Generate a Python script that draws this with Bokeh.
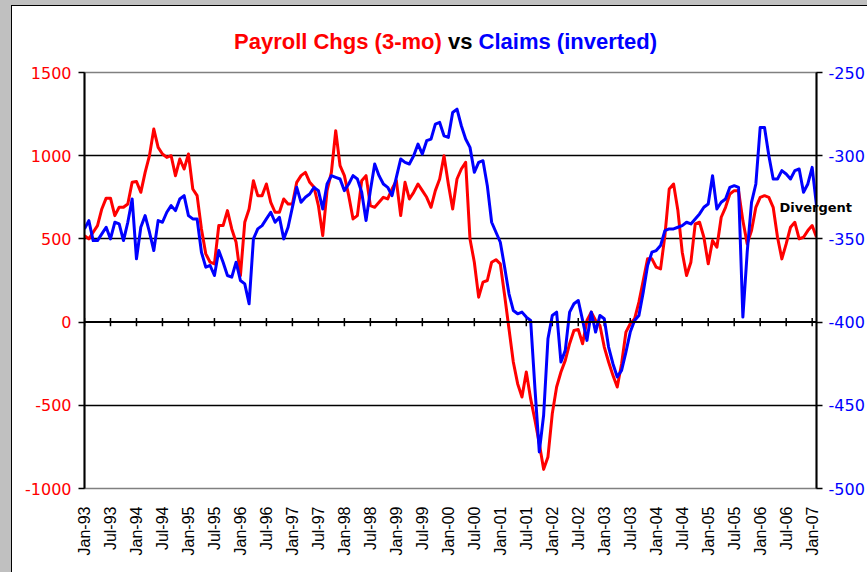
import math
from bokeh.plotting import figure
from bokeh.layouts import column
from bokeh.models import Range1d, LinearAxis, FixedTicker, Span, Div
from bokeh.embed import file_html
from bokeh.resources import INLINE

# month index: 0 = Jan-93 ... 169 = Feb-07
months = list(range(170))

# 3-month payroll change (thousands), left axis
payroll = [
    520, 500, 540, 580, 680, 745, 745, 640, 690, 690,
    710, 840, 845, 780, 900, 1000, 1160, 1050, 1010, 990,
    1000, 880, 980, 920, 1010, 800, 760, 560, 410, 360,
    350, 580, 580, 670, 560, 480, 280, 600, 680, 850,
    760, 760, 830, 720, 660, 660, 740, 710, 710, 840,
    880, 900, 840, 810, 700, 520, 790, 900, 1150, 940,
    880, 760, 620, 640, 850, 880, 700, 690, 720, 750,
    740, 800, 850, 640, 840, 740, 780, 830, 790, 750,
    690, 790, 860, 1000, 830, 680, 860, 920, 960, 500,
    360, 150, 240, 250, 360, 375, 350, 160, -40, -240,
    -370, -450, -300, -460, -590, -730, -885, -810, -550, -390,
    -300, -230, -130, -50, -45, -130, 10, 60, 10, -20,
    -150, -240, -320, -390, -250, -60, -10, 20, 120, 250,
    380, 380, 330, 320, 520, 800, 830, 670, 420, 280,
    360, 590, 600, 510, 350, 490, 450, 630, 690, 770,
    790, 790, 610, 470, 550, 690, 750, 760, 750, 690,
    510, 380, 470, 570, 600, 500, 510, 550, 580, 510,
]

# initial jobless claims, inverted (thousands), right axis
claims_inverted = [
    -344, -339, -351, -351, -347, -343, -350, -340, -341, -351,
    -340, -326, -362, -343, -336, -346, -357, -339, -340, -334,
    -330, -333, -326, -324, -336, -338, -338, -358, -367, -366,
    -372, -357, -364, -372, -373, -364, -375, -377, -389, -350,
    -344, -342, -338, -334, -340, -337, -350, -343, -331, -319,
    -328, -325, -323, -319, -321, -332, -317, -312, -313, -314,
    -321, -317, -312, -314, -322, -339, -321, -305, -312, -317,
    -319, -324, -313, -302, -304, -305, -300, -293, -299, -291,
    -290, -281, -280, -288, -289, -274, -272, -282, -290, -295,
    -310, -304, -303, -318, -340, -346, -352, -367, -383, -393,
    -395, -394, -397, -399, -440, -478, -456, -410, -396, -394,
    -424, -417, -394, -389, -387, -399, -411, -394, -406, -396,
    -398, -415, -425, -433, -429, -418, -406, -399, -396, -382,
    -366, -358, -357, -354, -345, -344, -344, -343, -342, -340,
    -341, -338, -335, -331, -329, -312, -332, -328, -326, -319,
    -318, -319, -397, -358, -328, -317, -283, -283, -300, -314,
    -314, -309, -311, -314, -309, -308, -322, -317, -307, -330,
]

tick_months = list(range(0, 169, 6))
tick_labels = ["Jan-93", "Jul-93", "Jan-94", "Jul-94", "Jan-95", "Jul-95",
               "Jan-96", "Jul-96", "Jan-97", "Jul-97", "Jan-98", "Jul-98",
               "Jan-99", "Jul-99", "Jan-00", "Jul-00", "Jan-01", "Jul-01",
               "Jan-02", "Jul-02", "Jan-03", "Jul-03", "Jan-04", "Jul-04",
               "Jan-05", "Jul-05", "Jan-06", "Jul-06", "Jan-07"]
left_ticks = [-1000, -500, 0, 500, 1000, 1500]
left_labels = ["-1000", "-500", "0", "500", "1000", "1500"]
right_ticks = [-500, -450, -400, -350, -300, -250]
right_labels = ["-500", "-450", "-400", "-350", "-300", "-250"]
grid_levels = [-500, 500, 1000]
note_level = -331          # right-axis level of the "Divergent" note
note_text = "Divergent"

RED = "#FF0000"
BLUE = "#0000FF"
FONT = "Liberation Sans"
NUMFONT = "DejaVu Sans"

title_html = (
    '<div style="white-space:nowrap;font-family:\'Liberation Sans\',Arial,sans-serif;'
    'font-size:22px;font-weight:bold;line-height:26px;padding-left:234px;'
    'padding-top:29px;margin:0;">'
    '<span style="color:#FF0000">Payroll Chgs (3-mo)</span> '
    '<span style="color:#000000">vs</span> '
    '<span style="color:#0000FF">Claims (inverted)</span></div>'
)
title_div = Div(text=title_html, width=867, height=64, margin=0)

fig = figure(width=867, height=508, output_backend="svg", toolbar_location=None,
             x_range=Range1d(0, 169), y_range=Range1d(-1000, 1500),
             min_border_left=84, min_border_right=50, min_border_top=8,
             min_border_bottom=84, background_fill_color="white",
             border_fill_color=None)
fig.outline_line_color = "#808080"
fig.outline_line_width = 1.5

fig.extra_y_ranges = {"claims": Range1d(-500, -250)}

# left axis
ya = fig.yaxis[0]
ya.ticker = FixedTicker(ticks=left_ticks)
ya.major_label_overrides = {t: s for t, s in zip(left_ticks, left_labels)}
ya.major_label_text_color = RED
ya.major_label_text_font = NUMFONT
ya.major_label_text_font_size = "16px"
ya.axis_line_color = "black"
ya.axis_line_width = 2
ya.major_tick_line_color = "black"
ya.major_tick_line_width = 1.5
ya.major_tick_out = 6
ya.major_tick_in = 0
ya.minor_tick_line_color = None
ya.major_label_standoff = 7

# right axis
ra = LinearAxis(y_range_name="claims", ticker=FixedTicker(ticks=right_ticks))
ra.major_label_overrides = {t: s for t, s in zip(right_ticks, right_labels)}
ra.major_label_text_color = BLUE
ra.major_label_text_font = NUMFONT
ra.major_label_text_font_size = "16px"
ra.axis_line_color = "black"
ra.axis_line_width = 2
ra.major_tick_line_color = "black"
ra.major_tick_line_width = 1.5
ra.major_tick_out = 6
ra.major_tick_in = 0
ra.minor_tick_line_color = None
ra.major_label_standoff = 6
fig.add_layout(ra, "right")

# note "Divergent" as a label-only axis pulled back over the plot edge
na = LinearAxis(y_range_name="claims", ticker=FixedTicker(ticks=[note_level]))
na.major_label_overrides = {note_level: note_text}
na.major_label_text_color = "black"
na.major_label_text_font = NUMFONT
na.major_label_text_font_size = "13px"
na.major_label_text_font_style = "bold"
na.axis_line_color = None
na.major_tick_line_color = None
na.minor_tick_line_color = None
na.major_tick_out = 0
na.major_tick_in = 0
na.major_label_standoff = -88
fig.add_layout(na, "right")

# bottom axis (labels only)
xa = fig.xaxis[0]
xa.ticker = FixedTicker(ticks=tick_months)
xa.major_label_overrides = {m: lab for m, lab in zip(tick_months, tick_labels)}
xa.major_label_orientation = math.pi / 2
xa.major_label_text_font = FONT
xa.major_label_text_font_size = "16px"
xa.major_label_text_color = "black"
xa.axis_line_color = None
xa.major_tick_line_color = None
xa.minor_tick_line_color = None
xa.major_label_standoff = 12

fig.xgrid.visible = False
fig.ygrid.ticker = FixedTicker(ticks=grid_levels)
fig.ygrid.grid_line_color = "black"
fig.ygrid.grid_line_width = 1.5

# zero line with cross ticks
fig.add_layout(Span(location=0, dimension="width", line_color="black", line_width=2))
fig.segment(x0=tick_months, y0=[-25] * len(tick_months), x1=tick_months,
            y1=[25] * len(tick_months), line_color="black", line_width=1.5)

# series
fig.line(months, payroll, line_color=RED, line_width=3, line_join="round")
fig.line(months, claims_inverted, line_color=BLUE, line_width=3, line_join="round",
         y_range_name="claims")

p = column(title_div, fig, spacing=0)
p.styles = {"box-shadow": "inset 11px 5px 0 0 #c0c0c0, inset 12px 6px 0 0 #000000"}

open("out.html", "w").write(file_html(p, INLINE))
